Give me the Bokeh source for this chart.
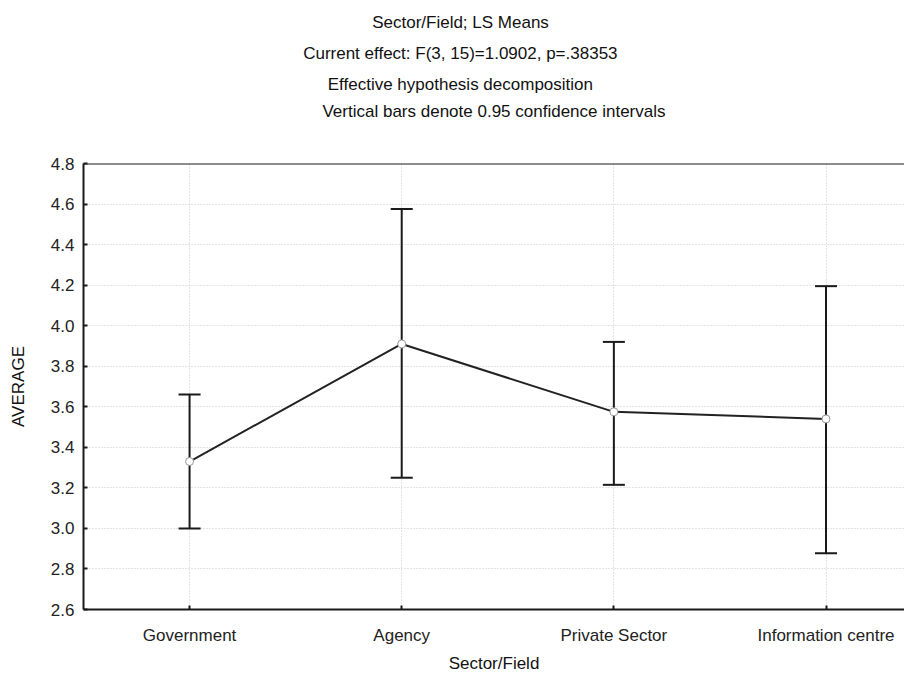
from bokeh.plotting import figure
from bokeh.models import Range1d, LinearAxis, FixedTicker, Title, ColumnDataSource, Whisker, Span
from bokeh.embed import file_html
from bokeh.resources import INLINE

categories = ["Government", "Agency", "Private Sector", "Information centre"]
means = [3.33, 3.91, 3.575, 3.54]
upper = [3.66, 4.575, 3.92, 4.195]
lower = [3.00, 3.25, 3.215, 2.878]
y_ticks = [2.6, 2.8, 3.0, 3.2, 3.4, 3.6, 3.8, 4.0, 4.2, 4.4, 4.6, 4.8]
title_lines = [
    "Sector/Field; LS Means",
    "Current effect: F(3, 15)=1.0902, p=.38353",
    "Effective hypothesis decomposition",
    "Vertical bars denote 0.95 confidence intervals",
]
x_title = "Sector/Field"
y_title = "AVERAGE"

xs = list(range(1, len(categories) + 1))
src = ColumnDataSource(dict(x=xs, m=means, up=upper, lo=lower))

W, H = 904, 675
FONT = "Liberation Sans"
INK = "#1a1a1a"
p = figure(width=W, height=H, output_backend="svg", toolbar_location=None,
           x_range=Range1d(0.5, 4.37), y_range=Range1d(2.6, 4.8),
           min_border_left=83, min_border_right=0, min_border_top=163, min_border_bottom=61,
           x_axis_location=None, y_axis_location=None)
p.outline_line_color = None
p.background_fill_color = "white"
p.border_fill_color = "white"

def style_axis(ax):
    ax.axis_line_width = 2
    ax.axis_line_color = INK
    ax.major_tick_in = 4
    ax.major_tick_out = 0
    ax.major_tick_line_width = 2
    ax.major_tick_line_color = INK
    ax.minor_tick_line_color = None
    ax.major_label_text_font = FONT
    ax.major_label_text_font_size = "17px"
    ax.major_label_text_color = "#222222"
    ax.axis_label_text_font = FONT
    ax.axis_label_text_font_size = "17px"
    ax.axis_label_text_font_style = "normal"
    ax.axis_label_text_color = "#111111"

yax = LinearAxis(ticker=FixedTicker(ticks=y_ticks), axis_label=y_title)
style_axis(yax)
yax.major_label_standoff = 9
yax.axis_label_standoff = 20
yax.major_label_overrides = {t: f"{t:.1f}" for t in y_ticks}
p.add_layout(yax, "left")

xax = LinearAxis(ticker=FixedTicker(ticks=xs), axis_label=x_title)
style_axis(xax)
xax.major_label_overrides = {x: c for x, c in zip(xs, categories)}
xax.major_label_standoff = 16
xax.axis_label_standoff = 6
p.add_layout(xax, "below")

# top frame border
p.add_layout(Span(location=4.8, dimension="width", line_color=INK, line_width=2))

# last title line carried by a tick-less top axis so it sits well above the frame
tax = LinearAxis(ticker=FixedTicker(ticks=[]), axis_label=title_lines[3])
style_axis(tax)
tax.axis_line_color = None
tax.axis_label_standoff = 43
p.add_layout(tax, "above")

p.xgrid.ticker = FixedTicker(ticks=xs)
p.ygrid.ticker = FixedTicker(ticks=y_ticks)
for g in (p.xgrid, p.ygrid):
    g.grid_line_color = "#c8c8c8"
    g.grid_line_dash = "1 2"
    g.grid_line_width = 1

w = Whisker(source=src, base="x", upper="up", lower="lo", line_color=INK, line_width=2)
for h in (w.upper_head, w.lower_head):
    h.size = 22
    h.line_width = 2
    h.line_color = INK
p.add_layout(w)

p.line("x", "m", source=src, line_color="#222222", line_width=2)
p.scatter("x", "m", source=src, size=8, fill_color="white", line_color="#999999", line_width=1)

# approximate text widths (em) to centre the title lines on page x=460
title_center_px = 460 - 83
em_widths = [10.393, 18.511, 15.618]
fs = 17
for t, wem in reversed(list(zip(title_lines[:3], em_widths))):
    off = title_center_px - wem * fs / 2
    p.add_layout(Title(text=t, align="left", offset=off, standoff=10,
                       text_font=FONT, text_font_size=f"{fs}px",
                       text_font_style="normal", text_color="#111111"), "above")

open("out.html", "w").write(file_html(p, INLINE))
